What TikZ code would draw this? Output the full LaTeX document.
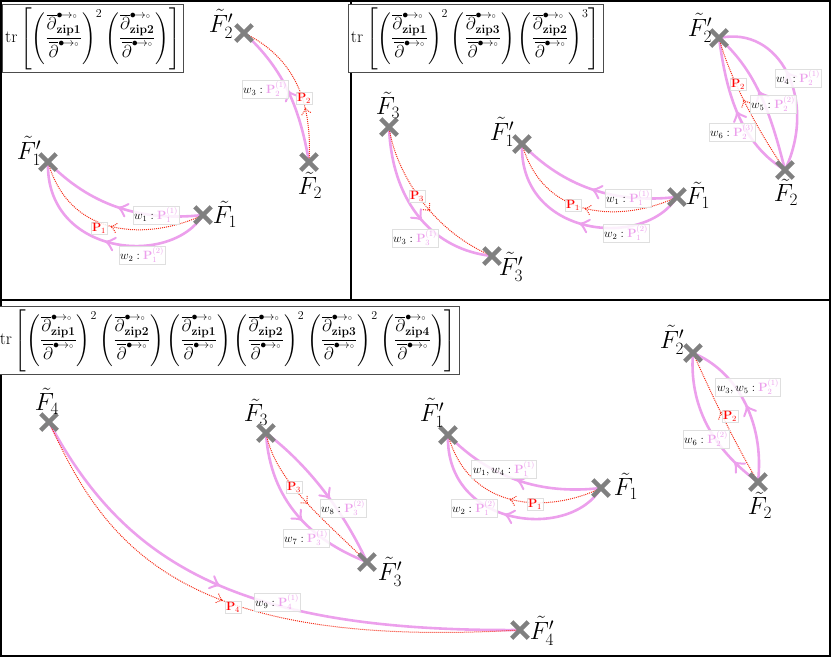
\documentclass[tikz,border=0pt]{standalone}
\usepackage{amsmath}
\usetikzlibrary{shapes.misc,decorations.markings}
\definecolor{pinkc}{RGB}{236,160,236}
\definecolor{redc}{RGB}{245,45,25}
\definecolor{crossc}{RGB}{128,128,128}
\newcommand\zf[1]{\left(\frac{\overline{\partial}^{\bullet\!\to{\scriptscriptstyle\circ}}_{\mathbf{#1}}}{\overline{\partial}^{\bullet\!\to{\scriptscriptstyle\circ}}}\right)}
\newcommand\pw[1]{{\color{pinkc}#1}}
\pgfdeclarelayer{bg}
\pgfsetlayers{bg,main}
\tikzset{
 xmark/.style={cross out, draw=crossc, line width=4.5pt, minimum size=12pt, inner sep=0pt},
 flabel/.style={font=\fontsize{24}{28}\selectfont, inner sep=0pt},
 pinkedge/.style={draw=pinkc, line width=2.6pt},
 rededge/.style={draw=redc, line width=1pt, densely dotted},
 parr/.style={postaction={decorate,decoration={markings,mark=at position #1 with {\draw[pinkc,line width=2pt,solid,line cap=round] (-8pt,6.5pt) .. controls (-3pt,1.5pt) .. (0pt,0pt) .. controls (-3pt,-1.5pt) .. (-8pt,-6.5pt);}}}},
 rarr/.style={postaction={decorate,decoration={markings,mark=at position #1 with {\draw[redc,line width=1pt,densely dotted] (-6pt,5pt) .. controls (-2.5pt,1.3pt) .. (0pt,0pt) .. controls (-2.5pt,-1.3pt) .. (-6pt,-5pt);}}}},
 wlab/.style={fill=white, fill opacity=0.85, text opacity=1, draw=gray!25, line width=0.6pt, inner sep=1.3pt, font=\fontsize{11.5}{13}\selectfont},
 plab/.style={wlab, text=red, inner sep=1pt},
 fbox/.style={draw=black!70, line width=0.8pt, inner sep=3pt, fill=white, font=\fontsize{16.6}{20}\selectfont},
 panel/.style={draw=black, line width=2.4pt},
}
\begin{document}
\begin{tikzpicture}[x=1pt,y=-1pt]
\useasboundingbox (0,0) rectangle (831,657);
% panels
\draw[panel] (1.2,1.2) rectangle (351,300);
\draw[panel] (351,1.2) rectangle (829.8,300);
\draw[panel] (1.2,300) rectangle (829.8,655.8);
% formulas
\node[fbox] (fA) at (93,38.5) {$\displaystyle \mathrm{tr}\left[\zf{zip1}^{2}\zf{zip2}\right]$};
\node[fbox] (fB) at (475.5,38.5) {$\displaystyle \mathrm{tr}\left[\zf{zip1}^{2}\zf{zip3}\zf{zip2}^{3}\right]$};
\node[fbox] (fC) at (228,340.5) {$\displaystyle \mathrm{tr}\left[\zf{zip1}^{2}\zf{zip2}\zf{zip1}\zf{zip2}^{2}\zf{zip3}^{2}\zf{zip4}\right]$};
% ---------- crosses ----------
\node[xmark] (aF1p) at (48,162) {};
\node[xmark] (aF1) at (203,215) {};
\node[xmark] (aF2p) at (244,33) {};
\node[xmark] (aF2) at (309,162) {};
\node[xmark] (bF3) at (389,127) {};
\node[xmark] (bF3p) at (492,256) {};
\node[xmark] (bF1p) at (522,144) {};
\node[xmark] (bF1) at (677,197) {};
\node[xmark] (bF2p) at (719,38) {};
\node[xmark] (bF2) at (785,170) {};
\node[xmark] (cF4) at (49,422) {};
\node[xmark] (cF4p) at (520,630) {};
\node[xmark] (cF3) at (266,433) {};
\node[xmark] (cF3p) at (367,562) {};
\node[xmark] (cF1p) at (448,435) {};
\node[xmark] (cF1) at (601,488) {};
\node[xmark] (cF2p) at (693,353) {};
\node[xmark] (cF2) at (758,482) {};
% ---------- point labels ----------
\node[flabel] (laF1p) at (29,151) {$\tilde F_1'$};
\node[flabel] (laF1) at (225,214) {$\tilde F_1$};
\node[flabel] (laF2p) at (221,24) {$\tilde F_2'$};
\node[flabel] (laF2) at (310,185) {$\tilde F_2$};
\node[flabel] (lbF3) at (388,105) {$\tilde F_3$};
\node[flabel] (lbF3p) at (511,267) {$\tilde F_3'$};
\node[flabel] (lbF1p) at (502,132) {$\tilde F_1'$};
\node[flabel] (lbF1) at (698,195) {$\tilde F_1$};
\node[flabel] (lbF2p) at (700,28) {$\tilde F_2'$};
\node[flabel] (lbF2) at (786,192) {$\tilde F_2$};
\node[flabel] (lcF4) at (47,401) {$\tilde F_4$};
\node[flabel] (lcF4p) at (542,631) {$\tilde F_4'$};
\node[flabel] (lcF3) at (256,412) {$\tilde F_3$};
\node[flabel] (lcF3p) at (390,572) {$\tilde F_3'$};
\node[flabel] (lcF1p) at (432,413) {$\tilde F_1'$};
\node[flabel] (lcF1) at (626,486) {$\tilde F_1$};
\node[flabel] (lcF2p) at (672,340) {$\tilde F_2'$};
\node[flabel] (lcF2) at (760,505) {$\tilde F_2$};
% ---------- edges ----------
\begin{pgfonlayer}{bg}
% panel A
\draw[pinkedge,parr=0.5] (aF1.center) .. controls (140,222) and (90,205) .. (aF1p.center);
\draw[pinkedge,parr=0.5] (aF1.center) .. controls (170,268) and (45,255) .. (aF1p.center);
\draw[rededge,rarr=0.5] (aF1.center) .. controls (150,240) and (70,240) .. (aF1p.center);
\draw[pinkedge,parr=0.5] (aF2.center) .. controls (300,110) and (285,70) .. (aF2p.center);
\draw[rededge,rarr=0.35] (aF2.center) .. controls (312,110) and (300,60) .. (aF2p.center);
% panel B
\draw[pinkedge,parr=0.55] (bF3.center) .. controls (392,205) and (435,250) .. (bF3p.center);
\draw[rededge,rarr=0.55] (bF3.center) .. controls (395,170) and (430,230) .. (bF3p.center);
\draw[pinkedge,parr=0.5] (bF1.center) .. controls (614,204) and (564,187) .. (bF1p.center);
\draw[pinkedge,parr=0.5] (bF1.center) .. controls (644,250) and (519,237) .. (bF1p.center);
\draw[rededge,rarr=0.5] (bF1.center) .. controls (624,222) and (544,222) .. (bF1p.center);
\draw[pinkedge,parr=0.55] (bF2.center) .. controls (818,100) and (780,25) .. (bF2p.center);
\draw[pinkedge,parr=0.55] (bF2.center) .. controls (770,110) and (755,70) .. (bF2p.center);
\draw[pinkedge,parr=0.5] (bF2.center) .. controls (735,140) and (725,80) .. (bF2p.center);
\draw[rededge,rarr=0.55] (bF2.center) .. controls (752,122) and (728,72) .. (bF2p.center);
% panel C
\draw[pinkedge,parr=0.44] (cF4.center) .. controls (125,565) and (240,632) .. (cF4p.center);
\draw[rededge,rarr=0.46] (cF4.center) .. controls (105,545) and (180,650) .. (cF4p.center);
\draw[pinkedge,parr=0.55] (cF3.center) .. controls (305,462) and (342,508) .. (cF3p.center);
\draw[pinkedge,parr=0.55] (cF3.center) .. controls (270,500) and (310,540) .. (cF3p.center);
\draw[rededge,rarr=0.5] (cF3.center) .. controls (275,480) and (320,516) .. (cF3p.center);
\draw[pinkedge,parr=0.5] (cF1.center) .. controls (540,495) and (490,478) .. (cF1p.center);
\draw[pinkedge,parr=0.5] (cF1.center) .. controls (570,541) and (445,528) .. (cF1p.center);
\draw[rededge,rarr=0.5] (cF1.center) .. controls (550,513) and (470,513) .. (cF1p.center);
\draw[pinkedge,parr=0.5] (cF2.center) .. controls (765,420) and (735,370) .. (cF2p.center);
\draw[pinkedge,parr=0.2] (cF2.center) .. controls (700,440) and (690,390) .. (cF2p.center);
\draw[rededge,rarr=0.55] (cF2.center) .. controls (733,440) and (712,395) .. (cF2p.center);
\end{pgfonlayer}
% ---------- edge labels ----------
\node[wlab] (wa1) at (156,215) {$w_1 : \pw{\mathbf{P}_1^{(1)}}$};
\node[wlab] (wa2) at (142,255) {$w_2 : \pw{\mathbf{P}_1^{(2)}}$};
\node[plab] (pa1) at (99,228) {$\mathbf{P}_1$};
\node[wlab] (wa3) at (265,89) {$w_3 : \pw{\mathbf{P}_2^{(1)}}$};
\node[plab] (pa2) at (304,98) {$\mathbf{P}_2$};
\node[wlab] (wb3) at (415,238) {$w_3 : \pw{\mathbf{P}_3^{(1)}}$};
\node[plab] (pb3) at (417,196) {$\mathbf{P}_3$};
\node[wlab] (wb1) at (628,198) {$w_1 : \pw{\mathbf{P}_1^{(1)}}$};
\node[wlab] (wb2) at (626,233) {$w_2 : \pw{\mathbf{P}_1^{(2)}}$};
\node[plab] (pb1) at (573,205) {$\mathbf{P}_1$};
\node[wlab] (wb4) at (798,78) {$w_4 : \pw{\mathbf{P}_2^{(1)}}$};
\node[wlab] (wb5) at (773,104) {$w_5 : \pw{\mathbf{P}_2^{(2)}}$};
\node[wlab] (wb6) at (732,132) {$w_6 : \pw{\mathbf{P}_2^{(3)}}$};
\node[plab] (pb2) at (738,84) {$\mathbf{P}_2$};
\node[wlab] (wc9) at (277,602) {$w_9 : \pw{\mathbf{P}_4^{(1)}}$};
\node[plab] (pc4) at (233,607) {$\mathbf{P}_4$};
\node[wlab] (wc8) at (343,508) {$w_8 : \pw{\mathbf{P}_3^{(2)}}$};
\node[wlab] (wc7) at (306,538) {$w_7 : \pw{\mathbf{P}_3^{(1)}}$};
\node[plab] (pc3) at (294,487) {$\mathbf{P}_3$};
\node[wlab] (wc1) at (504,469) {$w_1, w_4 : \pw{\mathbf{P}_1^{(1)}}$};
\node[wlab] (wc2) at (474,508) {$w_2 : \pw{\mathbf{P}_1^{(2)}}$};
\node[plab] (pc1) at (535,504) {$\mathbf{P}_1$};
\node[wlab] (wc3) at (748,387) {$w_3, w_5 : \pw{\mathbf{P}_2^{(1)}}$};
\node[wlab] (wc6) at (706,439) {$w_6 : \pw{\mathbf{P}_2^{(2)}}$};
\node[plab] (pc2) at (730,416) {$\mathbf{P}_2$};
\end{tikzpicture}
\end{document}
